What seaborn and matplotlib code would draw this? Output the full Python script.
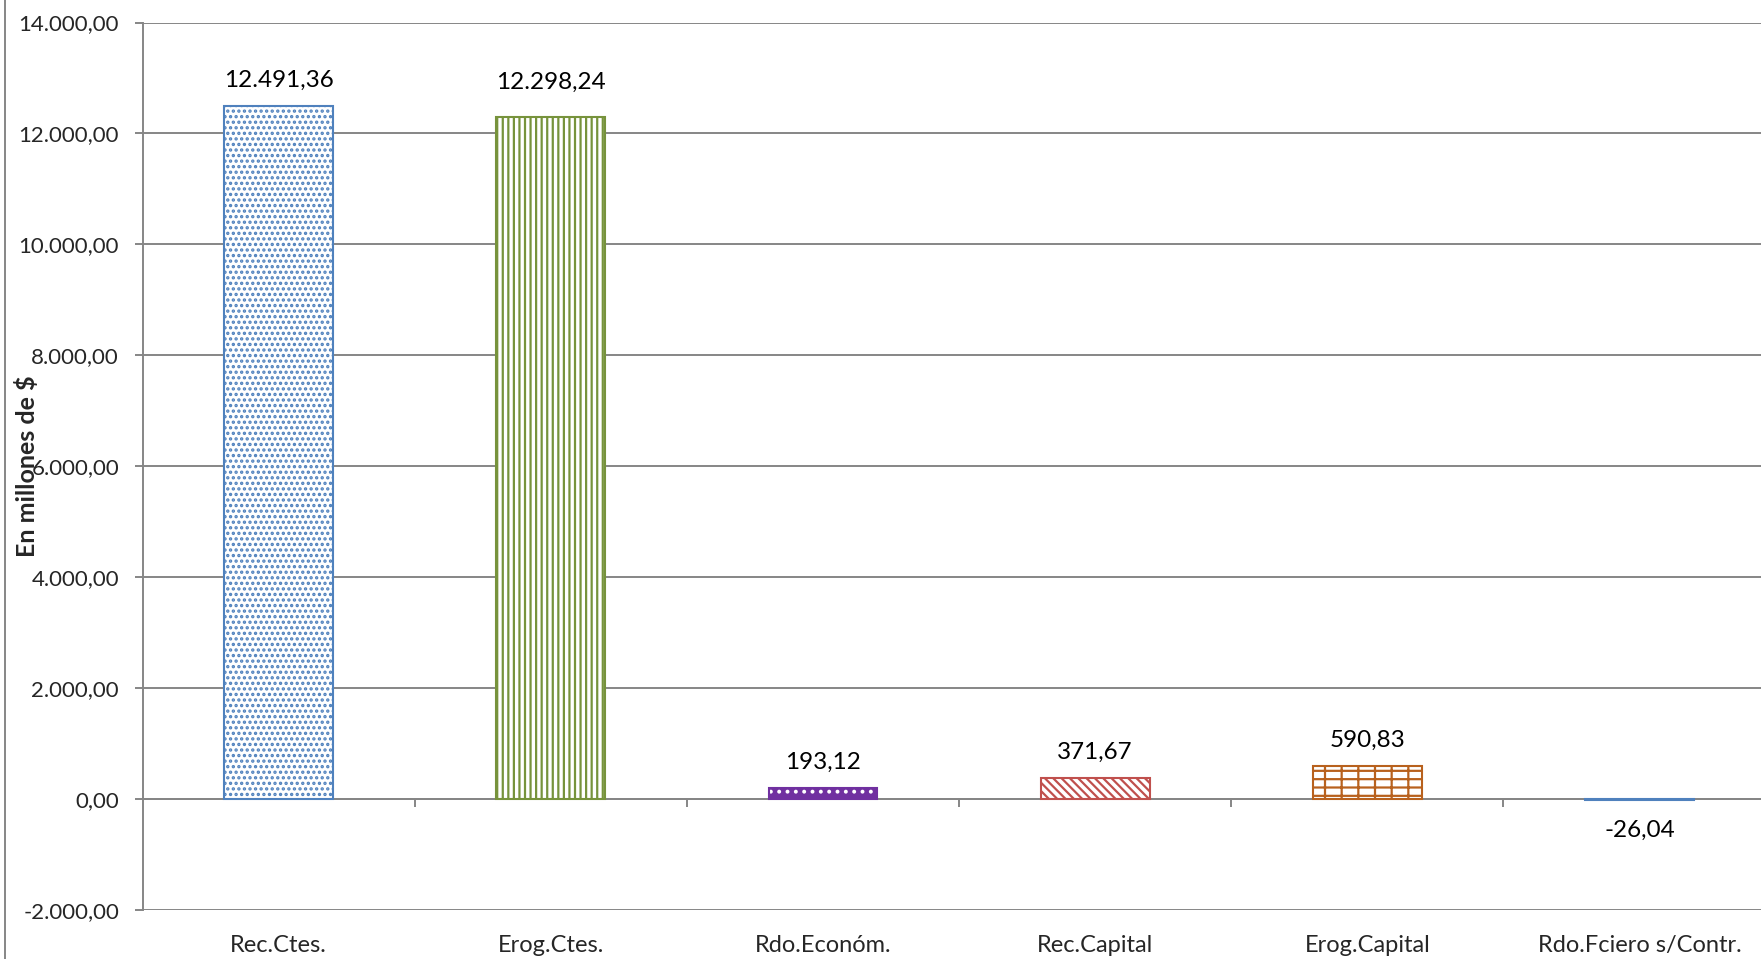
import numpy as np
import pandas as pd
import matplotlib
matplotlib.use("Agg")
import matplotlib.pyplot as plt
from matplotlib.lines import Line2D
import seaborn as sns

# data
categories = ["Rec.Ctes.", "Erog.Ctes.", "Rdo.Económ.", "Rec.Capital", "Erog.Capital", "Rdo.Fciero s/Contr."]
values = [12491.36, 12298.24, 193.12, 371.67, 590.83, -26.04]
y_ticks = [-2000, 0, 2000, 4000, 6000, 8000, 10000, 12000, 14000]

# styling per bar: face, hatch colour, hatch, outline, label padding
face_colors = ["white", "white", "#7030A0", "white", "white", "#7BA7D8"]
hatch_colors = ["#4F81BD", "#77933C", "white", "#C0504D", "#B8611D", "#4F81BD"]
hatches = ["...", "|||", "..", "\\\\\\\\", "--|", ""]
edge_colors = ["#4F81BD", "#77933C", "#7030A0", "#C0504D", "#B8611D", "#4F81BD"]
label_pads = [11, 17, 11, 11, 11, 14]

GRID = "#868686"


def fmt_es(v):
    s = f"{v:,.2f}"
    return s.replace(",", "X").replace(".", ",").replace("X", ".")


sns.set_theme(style="white")
plt.rcParams['font.family'] = ['Lato', 'DejaVu Sans']
plt.rcParams['hatch.linewidth'] = 1.6

df = pd.DataFrame({"cat": categories, "val": values})

fig = plt.figure(figsize=(17.61, 9.59), dpi=100)
ax = fig.add_axes([0.081, 0.0514, 0.9273, 0.9251])

# pass 1: faces + hatching (hatch takes the patch edge colour)
sns.barplot(data=df, x="cat", y="val", hue="cat", palette=face_colors,
            width=0.4, legend=False, ax=ax, saturation=1, linewidth=0)
for p, fc, hc, h in zip(ax.patches, face_colors, hatch_colors, hatches):
    p.set_facecolor(fc)
    p.set_edgecolor(hc)
    p.set_hatch(h)
    p.set_linewidth(0)
n_first = len(ax.containers)

# pass 2: outlines
sns.barplot(data=df, x="cat", y="val", hue="cat", palette=edge_colors,
            width=0.4, legend=False, ax=ax, saturation=1, fill=False)
for p, ec in zip(ax.patches[len(categories):], edge_colors):
    p.set_edgecolor(ec)
    p.set_linewidth(1.5)

# value labels
for cont, v, pad in zip(ax.containers[:n_first], values, label_pads):
    ax.bar_label(cont, labels=[fmt_es(v)], padding=pad, fontsize=17.5, color="black")

ax.set_ylim(-2000, 14000)
ax.set_xlim(-0.5, len(categories) - 0.5)
ax.set_yticks(y_ticks)
ax.set_yticklabels([fmt_es(t) for t in y_ticks], fontsize=16)
ax.yaxis.grid(True, color=GRID, linewidth=1.4)
ax.set_axisbelow(True)
for s in ["top", "right", "bottom"]:
    ax.spines[s].set_visible(False)
ax.spines["left"].set_color(GRID)
ax.spines["left"].set_linewidth(1.4)
ax.tick_params(axis="y", left=True, length=5.5, width=1.4, color=GRID, pad=11.5)
ax.tick_params(axis="x", bottom=False, length=0, pad=18, labelsize=17)
ax.set_xlabel("")
ax.set_ylabel("En millones de $", fontsize=18, fontweight="bold")
ax.yaxis.set_label_coords(-0.0708, 0.5)
ax.yaxis.label.set_verticalalignment("center")

# category axis crossing at zero with boundary ticks
sec = ax.secondary_xaxis(0, transform=ax.transData)
sec.set_xticks(np.arange(len(categories) - 1) + 0.5)
sec.set_xticklabels([])
sec.spines["bottom"].set_color(GRID)
sec.spines["bottom"].set_linewidth(1.4)
sec.tick_params(length=5.8, width=1.4, color=GRID, direction="out")

# chart-area frame at left edge
fig.add_artist(Line2D([0.003, 0.003], [0, 1], transform=fig.transFigure,
                      color=GRID, linewidth=1.4))

fig.savefig("out.png", dpi=100)
